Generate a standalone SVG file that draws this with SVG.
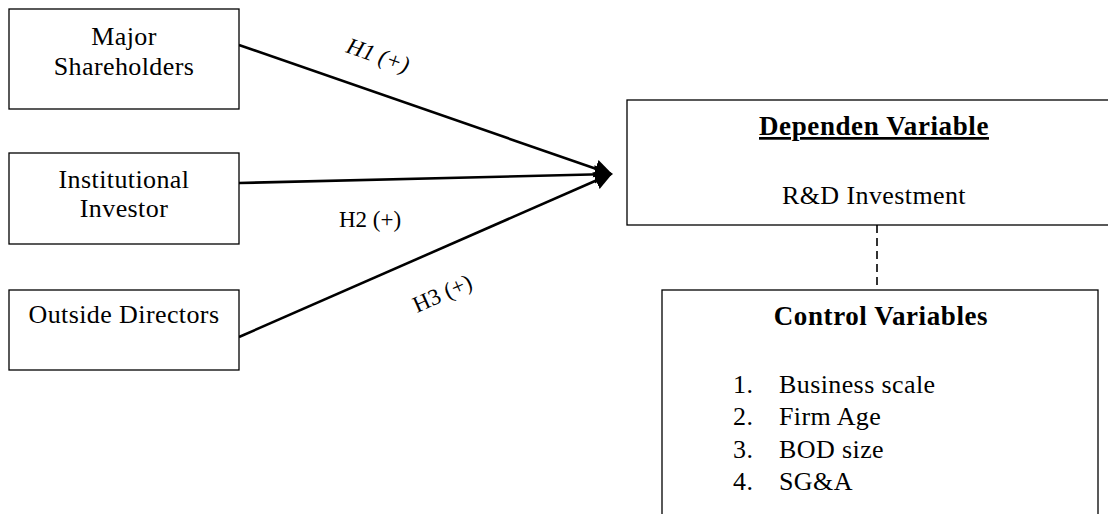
<svg xmlns="http://www.w3.org/2000/svg" width="1108" height="514" viewBox="0 0 1108 514">
<defs>
<style>
.box{fill:#fff;stroke:#000;stroke-width:1.3}
.t{font-family:"Liberation Serif","Times New Roman",serif;font-size:26px;letter-spacing:0.4px;fill:#000}
.c{text-anchor:middle}
.b{font-weight:bold;font-size:27px;letter-spacing:0.6px}
.conn{stroke:#000;stroke-width:2.6;fill:none}
.lbl{font-family:"Liberation Serif","Times New Roman",serif;font-size:23px;fill:#000}
</style>
<marker id="arr" viewBox="0 0 10 10" refX="9" refY="5" markerWidth="7" markerHeight="8" markerUnits="strokeWidth" orient="auto">
<path d="M0,0 L10,5 L0,10 Z" fill="#000"/>
</marker>
</defs>
<rect width="1108" height="514" fill="#fff"/>
<g id="connectors">
<line class="conn" x1="239" y1="45" x2="611" y2="174" marker-end="url(#arr)"/>
<line class="conn" x1="239" y1="183" x2="611" y2="174" marker-end="url(#arr)"/>
<line class="conn" x1="239" y1="337" x2="611" y2="174" marker-end="url(#arr)"/>
<line x1="877" y1="225" x2="877" y2="290" stroke="#000" stroke-width="1.6" stroke-dasharray="8,5"/>
<text class="lbl" font-style="italic" transform="translate(345,52) rotate(19)">H1 (+)</text>
<text class="lbl" x="339" y="227">H2 (+)</text>
<text class="lbl" transform="translate(417,313) rotate(-24)">H3 (+)</text>
</g>
<g id="major">
<rect class="box" x="9" y="9" width="230" height="100"/>
<text class="t c" x="124" y="45">Major</text>
<text class="t c" x="124" y="75">Shareholders</text>
</g>
<g id="institutional">
<rect class="box" x="9" y="153" width="230" height="91"/>
<text class="t c" x="124" y="188">Institutional</text>
<text class="t c" x="124" y="217">Investor</text>
</g>
<g id="outside">
<rect class="box" x="9" y="290" width="230" height="80"/>
<text class="t c" x="124" y="323">Outside Directors</text>
</g>
<g id="dependent">
<rect class="box" x="627" y="100" width="500" height="125" stroke-width="1.6"/>
<text class="t c b" x="874" y="135" text-decoration="underline">Dependen Variable</text>
<text class="t c" x="874" y="204">R&amp;D Investment</text>
</g>
<g id="control">
<rect class="box" x="662" y="290" width="436" height="240" stroke-width="2.2"/>
<text class="t c b" x="881" y="325">Control Variables</text>
<text class="t" x="733" y="393">1.</text>
<text class="t" x="779" y="393">Business scale</text>
<text class="t" x="733" y="425">2.</text>
<text class="t" x="779" y="425">Firm Age</text>
<text class="t" x="733" y="458">3.</text>
<text class="t" x="779" y="458">BOD size</text>
<text class="t" x="733" y="490">4.</text>
<text class="t" x="779" y="490">SG&amp;A</text>
</g>
</svg>
